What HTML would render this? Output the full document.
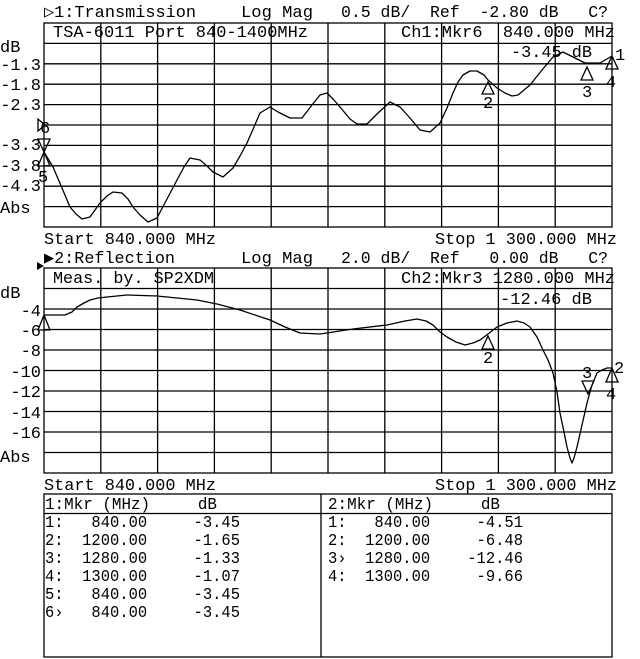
<!DOCTYPE html>
<html><head><meta charset="utf-8"><style>
html,body{margin:0;padding:0;background:#fff;}
svg{display:block}
text{font-family:"Liberation Mono","DejaVu Sans Mono",monospace;font-size:17px;fill:#000;white-space:pre;}
</style></head><body>
<svg width="640" height="659" viewBox="0 0 640 659" xmlns="http://www.w3.org/2000/svg">
<g stroke="#000" stroke-width="1.3" fill="none">
<rect x="44" y="23" width="568" height="204"/>
<path d="M100.8 23V227M157.6 23V227M214.4 23V227M271.2 23V227M328 23V227M384.8 23V227M441.6 23V227M498.4 23V227M555.2 23V227"/>
<path d="M44 43.4H612M44 63.8H612M44 84.2H612M44 104.6H612M44 125H612M44 145.4H612M44 165.8H612M44 186.2H612M44 206.6H612"/>
<rect x="44" y="268" width="568" height="205"/>
<path d="M100.8 268V473M157.6 268V473M214.4 268V473M271.2 268V473M328 268V473M384.8 268V473M441.6 268V473M498.4 268V473M555.2 268V473"/>
<path d="M44 288.5H612M44 309H612M44 329.5H612M44 350H612M44 370.5H612M44 391H612M44 411.5H612M44 432H612M44 452.5H612"/>
<rect x="44" y="494" width="568" height="163"/>
<path d="M44 513.5H612M321 494V657"/>
</g>
<g stroke="#000" stroke-width="1.3" fill="none" stroke-linejoin="round">
<polyline points="44,152 53,167 62,188 70,207 76,214 82,219 90,217 100,203 107,196 113,192 122,193 128,199 133,207 140,215 148,222 157,218 167,199 177,180 184,167 190,158 200,160 207,166 213,172 223,177 233,168 240,156 247,143 254,127 260,113 270,107 278,112 290,118 302,118 312,105 320,95 327,93 333,99 340,107 350,119 357,124 367,124 378,113 390,102 400,107 410,118 420,130 430,132 440,123 447,108 453,93 458,82 463,75 470,71 477,71 484,75 488,80 497,88 505,93 512,96 518,95 524,90 530,85 542,70 553,57 563,52 573,57 585,63 600,63 612,56"/>
<polyline points="44,315 55,315 65,315 72,312 77,307 84,303 90,300 98,298 107,297 127,295 157,296 177,298 197,300 217,304 240,310 270,320 285,327 300,333 320,334 353,329 387,325 405,321 417,319 426,321 433,325 440,332 447,337 456,342 465,345 473,343 480,340 488,334 497,327 507,323 517,321 524,323 530,327 537,337 543,350 548,360 553,373 557,392 560,413 564,432 567,447 570,458 572,463 574,458 577,447 582,425 587,403 592,385 597,373 602,370 607,368 612,368"/>
</g>
<g stroke="#000" stroke-width="1.3" fill="none">
<path d="M488 82 L482 94 L494 94 Z"/>
<path d="M587 67 L581 80 L593 80 Z"/>
<path d="M612 56 L606 69 L618 69 Z"/>
<path d="M44 139 L38 139 L44 152 L50 139 Z"/>
<path d="M44 152 L38 166 L50 166 Z"/>
<path d="M38 119 L38 131 L45 125 Z"/>
<path d="M44 315 L38 330 L50 330 Z"/>
<path d="M488 336 L482 349 L494 349 Z"/>
<path d="M582 381 L594 381 L588 394 Z"/>
<path d="M612 368 L606 382 L618 382 Z"/>
</g>
<path d="M37 262 L44 266 L37 270 Z" fill="#000"/>
<g style="font-size:15px">
<text x="483" y="108">2</text>
<text x="582" y="97">3</text>
<text x="615" y="60">1</text>
<text x="606" y="87">4</text>
<text x="40" y="133">6</text>
<text x="38" y="182">5</text>
<text x="483" y="363">2</text>
<text x="582" y="378">3</text>
<text x="614" y="373">2</text>
<text x="606" y="399">4</text>
</g>
<text x="44" y="17" textLength="152" lengthAdjust="spacingAndGlyphs">▷1:Transmission</text>
<text x="241" y="17" textLength="72" lengthAdjust="spacingAndGlyphs">Log Mag</text>
<text x="341" y="17" textLength="267" lengthAdjust="spacingAndGlyphs">0.5 dB/  Ref  -2.80 dB   C?</text>
<text x="53" y="37" textLength="255" lengthAdjust="spacingAndGlyphs">TSA-6011 Port 840-1400MHz</text>
<text x="401" y="37" textLength="214" lengthAdjust="spacingAndGlyphs">Ch1:Mkr6  840.000 MHz</text>
<text x="511" y="57" textLength="81" lengthAdjust="spacingAndGlyphs">-3.45 dB</text>
<text x="0" y="52">dB</text>
<g text-anchor="end">
<text x="41" y="70">-1.3</text>
<text x="41" y="90">-1.8</text>
<text x="41" y="110">-2.3</text>
<text x="41" y="150">-3.3</text>
<text x="41" y="171">-3.8</text>
<text x="41" y="191">-4.3</text>
</g>
<text x="0" y="213">Abs</text>
<text x="44" y="244" textLength="172" lengthAdjust="spacingAndGlyphs">Start 840.000 MHz</text>
<text x="435" y="244" textLength="182" lengthAdjust="spacingAndGlyphs">Stop 1 300.000 MHz</text>

<text x="44" y="263" textLength="131" lengthAdjust="spacingAndGlyphs">▶2:Reflection</text>
<text x="241" y="263" textLength="72" lengthAdjust="spacingAndGlyphs">Log Mag</text>
<text x="341" y="263" textLength="267" lengthAdjust="spacingAndGlyphs">2.0 dB/  Ref   0.00 dB   C?</text>
<text x="53" y="283" textLength="161" lengthAdjust="spacingAndGlyphs">Meas. by. SP2XDM</text>
<text x="401" y="283" textLength="214" lengthAdjust="spacingAndGlyphs">Ch2:Mkr3 1280.000 MHz</text>
<text x="500" y="304" textLength="92" lengthAdjust="spacingAndGlyphs">-12.46 dB</text>
<text x="0" y="298">dB</text>
<g text-anchor="end">
<text x="41" y="316">-4</text>
<text x="41" y="336">-6</text>
<text x="41" y="356">-8</text>
<text x="41" y="377">-10</text>
<text x="41" y="397">-12</text>
<text x="41" y="418">-14</text>
<text x="41" y="438">-16</text>
</g>
<text x="0" y="462">Abs</text>
<text x="44" y="490" textLength="172" lengthAdjust="spacingAndGlyphs">Start 840.000 MHz</text>
<text x="435" y="490" textLength="182" lengthAdjust="spacingAndGlyphs">Stop 1 300.000 MHz</text>

<text x="45" y="509" textLength="172" lengthAdjust="spacingAndGlyphs">1:Mkr (MHz)     dB</text>
<text x="45" y="527" textLength="195" lengthAdjust="spacingAndGlyphs">1:   840.00     -3.45</text>
<text x="45" y="545" textLength="195" lengthAdjust="spacingAndGlyphs">2:  1200.00     -1.65</text>
<text x="45" y="563" textLength="195" lengthAdjust="spacingAndGlyphs">3:  1280.00     -1.33</text>
<text x="45" y="581" textLength="195" lengthAdjust="spacingAndGlyphs">4:  1300.00     -1.07</text>
<text x="45" y="599" textLength="195" lengthAdjust="spacingAndGlyphs">5:   840.00     -3.45</text>
<text x="45" y="617" textLength="195" lengthAdjust="spacingAndGlyphs">6›   840.00     -3.45</text>
<text x="328" y="509" textLength="172" lengthAdjust="spacingAndGlyphs">2:Mkr (MHz)     dB</text>
<text x="328" y="527" textLength="195" lengthAdjust="spacingAndGlyphs">1:   840.00     -4.51</text>
<text x="328" y="545" textLength="195" lengthAdjust="spacingAndGlyphs">2:  1200.00     -6.48</text>
<text x="328" y="563" textLength="195" lengthAdjust="spacingAndGlyphs">3›  1280.00    -12.46</text>
<text x="328" y="581" textLength="195" lengthAdjust="spacingAndGlyphs">4:  1300.00     -9.66</text>
</svg>
</body></html>
